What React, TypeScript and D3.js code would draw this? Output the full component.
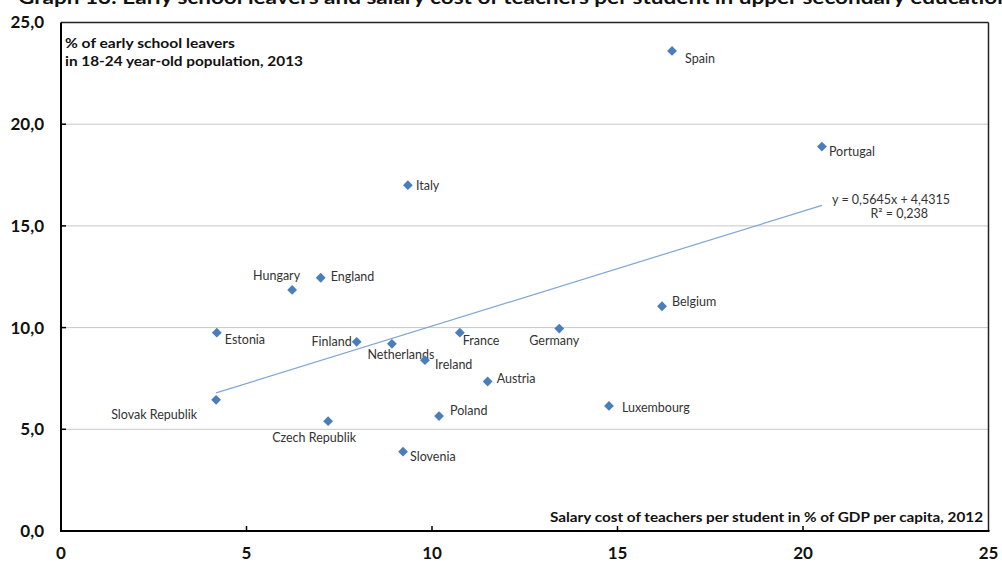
import React from "react";
import * as d3 from "d3";

const countries = ["Spain","Portugal","Italy","England","Hungary","Belgium","Estonia","Finland","Netherlands","Ireland","France","Germany","Austria","Slovak Republik","Czech Republik","Poland","Luxembourg","Slovenia"];
const salaryCost = [16.47,20.51,9.35,7.0,6.23,16.2,4.2,7.97,8.92,9.81,10.75,13.43,11.5,4.18,7.2,10.19,14.77,9.22];
const earlyLeavers = [23.6,18.9,17.0,12.45,11.85,11.05,9.75,9.3,9.2,8.4,9.75,9.95,7.35,6.45,5.4,5.65,6.15,3.9];
const xTicks = [0,5,10,15,20,25];
const yTicks = [0,5,10,15,20,25];
const trendSlope = 0.5645;
const trendIntercept = 4.4315;
const title = "Graph 13: Early school leavers and salary cost of teachers per student in upper secondary education";
const yTitle = ["% of early school leavers", "in 18-24 year-old population, 2013"];
const xTitle = "Salary cost of teachers per student in % of GDP per capita, 2012";
const eqText = "y = 0,5645x + 4,4315";
const r2Text = "R² = 0,238";

// label placement (offsets from marker)
const placement: Record<string, [number, number, string]> = {
  "Spain": [13, 8, "start"],
  "Portugal": [7, 5, "start"],
  "Italy": [8, 0, "start"],
  "England": [10, -1, "start"],
  "Hungary": [8, -14, "end"],
  "Belgium": [10, -5, "start"],
  "Estonia": [8, 7, "start"],
  "Finland": [-5, 0, "end"],
  "Netherlands": [9, 11, "middle"],
  "Ireland": [10, 4, "start"],
  "France": [3, 8, "start"],
  "Germany": [-5, 12, "middle"],
  "Austria": [9, -3, "start"],
  "Slovak Republik": [-19, 15, "end"],
  "Czech Republik": [-14, 16, "middle"],
  "Poland": [11, -5, "start"],
  "Luxembourg": [13, 2, "start"],
  "Slovenia": [7, 5, "start"],
};

const W = 1002, H = 562;
const left = 61, right = 988.5, top = 22.5, bottom = 531;

export default function App() {
  const x = d3.scaleLinear().domain([0, 25]).range([left, right]);
  const y = d3.scaleLinear().domain([0, 25]).range([bottom, top]);
  const font = "Lato, 'Open Sans', sans-serif";
  const xMin = d3.min(salaryCost)!;
  const xMax = d3.max(salaryCost)!;
  const trend = d3.line<number>().x(d => x(d)).y(d => y(trendSlope * d + trendIntercept));
  const diamond = d3.symbol().type(d3.symbolSquare).size(48)()!;
  return (
    <svg width={W} height={H} style={{ position: "absolute", left: 0, top: 0, background: "#fff" }} fontFamily={font}>
      <text x={18} y={4} fontSize={19} fontWeight={700} fill="#111" textLength={992} lengthAdjust="spacingAndGlyphs">{title}</text>
      {yTicks.filter(t => t > 0 && t < 25).map(t => (
        <line key={"g" + t} x1={left} x2={right} y1={y(t)} y2={y(t)} stroke="#c8c8c8" strokeWidth={1} />
      ))}
      {yTicks.filter(t => t > 0 && t < 25).map(t => (
        <line key={"yt" + t} x1={left} x2={left + 5} y1={y(t)} y2={y(t)} stroke="#000" strokeWidth={1.5} />
      ))}
      {xTicks.filter(t => t > 0 && t < 25).map(t => (
        <line key={"xt" + t} x1={x(t)} x2={x(t)} y1={bottom} y2={bottom - 5} stroke="#000" strokeWidth={1.5} />
      ))}
      <line x1={left} x2={right} y1={top} y2={top} stroke="#222" strokeWidth={1.5} />
      <line x1={right} x2={right} y1={top} y2={bottom} stroke="#222" strokeWidth={1.5} />
      <line x1={left} x2={left} y1={top} y2={bottom + 1} stroke="#000" strokeWidth={2} />
      <line x1={left - 1} x2={right + 1} y1={bottom} y2={bottom} stroke="#000" strokeWidth={2} />
      {yTicks.map(t => (
        <text key={"yl" + t} x={44} y={y(t)} dy="0.35em" textAnchor="end" fontSize={17} fontWeight={700} fill="#111">
          {d3.format(".1f")(t).replace(".", ",")}
        </text>
      ))}
      {xTicks.map(t => (
        <text key={"xl" + t} x={x(t)} y={553} dy="0.35em" textAnchor="middle" fontSize={17} fontWeight={700} fill="#111">
          {t}
        </text>
      ))}
      <text x={65} y={48} fontSize={14} fontWeight={700} fill="#111" textLength={170} lengthAdjust="spacingAndGlyphs">{yTitle[0]}</text>
      <text x={65} y={66} fontSize={14} fontWeight={700} fill="#111" textLength={238} lengthAdjust="spacingAndGlyphs">{yTitle[1]}</text>
      <text x={550} y={522} fontSize={14} fontWeight={700} fill="#111" textLength={433} lengthAdjust="spacingAndGlyphs">{xTitle}</text>
      <path d={trend([xMin, xMax])!} fill="none" stroke="#7fa6d4" strokeWidth={1.2} />
      <text x={891} y={200} dy="0.35em" textAnchor="middle" fontSize={12.5} fill="#333">{eqText}</text>
      <text x={928} y={214} dy="0.35em" textAnchor="end" fontSize={12.5} fill="#333">{r2Text}</text>
      {countries.map((c, i) => {
        const [dx, dy, anchor] = placement[c];
        const cx = x(salaryCost[i]);
        const cy = y(earlyLeavers[i]);
        return (
          <g key={c}>
            <path d={diamond} transform={`translate(${cx},${cy}) rotate(45)`} fill="#4a7ebb" />
            <text x={cx + dx} y={cy + dy} dy="0.35em" textAnchor={anchor as any} fontSize={12.5} fill="#333">{c}</text>
          </g>
        );
      })}
    </svg>
  );
}
